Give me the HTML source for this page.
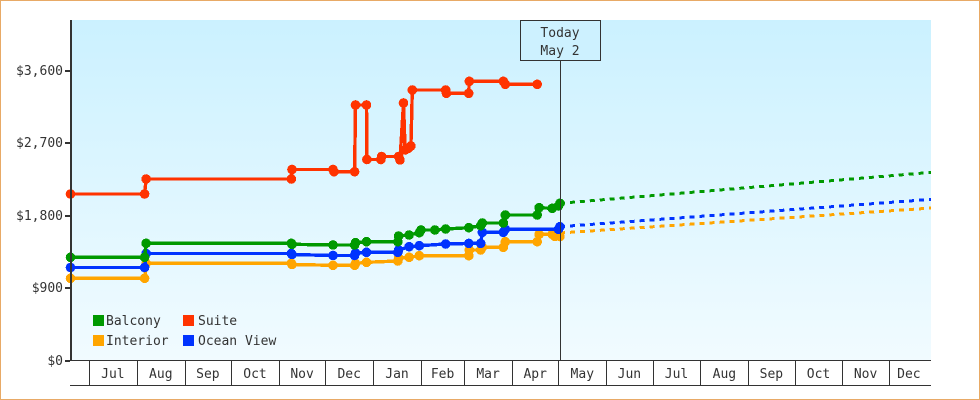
<!DOCTYPE html>
<html lang="en">
<head>
<meta charset="utf-8">
<title>Cabin price history and forecast</title>
<style>
html,body{margin:0;padding:0;background:#fff;}
svg{display:block;}
text{font-family:"DejaVu Sans Mono","Liberation Mono",monospace;font-size:13px;fill:#333;}
</style>
</head>
<body>
<svg id="chart" xmlns="http://www.w3.org/2000/svg" width="980" height="400" viewBox="0 0 980 400">
  <defs>
    <linearGradient id="plot-gradient" x1="0" y1="0" x2="0" y2="1">
      <stop offset="0" stop-color="#cbf1ff"/>
      <stop offset="1" stop-color="#f1fbff"/>
    </linearGradient>
    <clipPath id="plot-clip"><rect x="60" y="20" width="871" height="345"/></clipPath>
  </defs>
  <rect x="0.5" y="0.5" width="979" height="399" fill="#fff" stroke="#e8aa66" stroke-width="1" shape-rendering="crispEdges"/>
  <rect x="72" y="20" width="859" height="340" fill="url(#plot-gradient)"/>
  <g id="series-layer" clip-path="url(#plot-clip)"></g>
  <g id="axis-layer"></g>
  <g>
    <rect id="today-box" x="520.5" y="20.5" width="80" height="40" fill="#cdf1ff" stroke="#333" stroke-width="1" shape-rendering="crispEdges"/>
    <text x="560" y="37" text-anchor="middle">Today</text>
    <text x="560" y="55" text-anchor="middle">May 2</text>
    <line x1="560.5" y1="60" x2="560.5" y2="360" stroke="#333" stroke-width="1" shape-rendering="crispEdges"/>
  </g>
  <g>
    <g>
      <rect x="93" y="315" width="11" height="11" fill="#009900"/>
      <text x="106" y="325">Balcony</text>
    </g>
    <g>
      <rect x="183" y="315" width="11" height="11" fill="#ff3300"/>
      <text x="198" y="325">Suite</text>
    </g>
    <g>
      <rect x="93" y="335" width="11" height="11" fill="#ffa500"/>
      <text x="106" y="345">Interior</text>
    </g>
    <g>
      <rect x="183" y="335" width="11" height="11" fill="#0033ff"/>
      <text x="198" y="345">Ocean View</text>
    </g>
  </g>
</svg>
<script>
// Time is expressed in days since the first July tick.
const monthLabels = ['Jul','Aug','Sep','Oct','Nov','Dec','Jan','Feb','Mar','Apr','May','Jun','Jul','Aug','Sep','Oct','Nov','Dec'];
const monthStartDays = [0,31,62,92,123,153,184,215,243,274,304,335,365,396,427,457,488,518];
const priceTicks = [0,900,1800,2700,3600];
const priceTickLabels = ['$0','$900','$1,800','$2,700','$3,600'];

const interiorDays = [-12,36,37,131,131.5,158,172,172.6,179.7,200,200.5,207.3,213.9,246,246.3,253.7,254.7,268.3,269.6,290.3,291.5,300,301.8,305];
const interiorPrices = [1020,1020,1207,1207,1192,1182,1182,1204,1219,1235,1272,1281,1301,1301,1372,1372,1405,1405,1475,1475,1567,1567,1539,1539];

const oceanViewDays = [-12,36,37,131,131.5,158,172,172.6,179.7,200,200.5,207.3,213.9,231,246,253.7,254.7,268.3,269.6,304,305];
const oceanViewPrices = [1155,1155,1328,1328,1316,1303,1303,1335,1343,1343,1372,1413,1425,1446,1454,1454,1591,1591,1629,1629,1661];

const balconyDays = [-12,36,37,131,131.5,158,172,172.6,179.7,200,200.5,207.3,213.9,215,224,231,246,253.7,254.7,268.3,269.6,290.3,291.5,300,304,305];
const balconyPrices = [1281,1281,1455,1455,1443,1434,1434,1462,1475,1475,1546,1558,1587,1620,1620,1632,1649,1673,1707,1707,1806,1806,1897,1889,1918,1951];

const suiteDays = [-12,36,37,131,131.5,158,158.7,172,172.6,179.7,180,189,189.5,200.5,201.4,203.7,204.7,206.8,208.5,209.4,231,231.5,245.9,246.3,268.3,269.6,290.3];
const suitePrices = [2067,2067,2253,2253,2371,2371,2344,2344,3172,3172,2495,2495,2532,2532,2489,3197,2613,2634,2663,3358,3358,3317,3317,3466,3466,3429,3429];

const forecastDays = [305,546];
const interiorForecast = [1583,1893];
const oceanViewForecast = [1661,2001];
const balconyForecast = [1951,2336];

const NS = 'http://www.w3.org/2000/svg';
const seriesLayer = document.getElementById('series-layer');
const axisLayer = document.getElementById('axis-layer');

function xScale(day) { return 89 + day * 1.544; }
function yScale(price) { return 360.5 - price * 72.5 / 900; }
function pointString(days, prices) {
  return days.map(function (d, i) { return xScale(d).toFixed(1) + ',' + yScale(prices[i]).toFixed(1); }).join(' ');
}

function drawSeries(name, color, days, prices, futurePrices) {
  const group = document.createElementNS(NS, 'g');
  
  

  if (futurePrices) {
    const forecast = document.createElementNS(NS, 'polyline');
    forecast.setAttribute('points', pointString(forecastDays, futurePrices));
    forecast.setAttribute('fill', 'none');
    forecast.setAttribute('stroke', color);
    forecast.setAttribute('stroke-width', '3');
    forecast.setAttribute('stroke-dasharray', '5 5');
    forecast.setAttribute('shape-rendering', 'crispEdges');
    
    
    group.appendChild(forecast);
  }

  const line = document.createElementNS(NS, 'polyline');
  line.setAttribute('points', pointString(days, prices));
  line.setAttribute('fill', 'none');
  line.setAttribute('stroke', color);
  line.setAttribute('stroke-width', '3.4');
  line.setAttribute('stroke-linejoin', 'round');
  line.setAttribute('shape-rendering', 'crispEdges');
  
  
  group.appendChild(line);

  days.forEach(function (d, i) {
    const dot = document.createElementNS(NS, 'circle');
    dot.setAttribute('cx', xScale(d).toFixed(1));
    dot.setAttribute('cy', yScale(prices[i]).toFixed(1));
    dot.setAttribute('r', '4.8');
    dot.setAttribute('fill', color);
    dot.setAttribute('shape-rendering', 'crispEdges');
    
    
    group.appendChild(dot);
  });
  seriesLayer.appendChild(group);
}

drawSeries('interior', '#ffa500', interiorDays, interiorPrices, interiorForecast);
drawSeries('ocean-view', '#0033ff', oceanViewDays, oceanViewPrices, oceanViewForecast);
drawSeries('balcony', '#009900', balconyDays, balconyPrices, balconyForecast);
drawSeries('suite', '#ff3300', suiteDays, suitePrices, null);

function axisRect(x, y, w, h, name) {
  const r = document.createElementNS(NS, 'rect');
  r.setAttribute('x', x);
  r.setAttribute('y', y);
  r.setAttribute('width', w);
  r.setAttribute('height', h);
  r.setAttribute('fill', '#333');
  r.setAttribute('shape-rendering', 'crispEdges');
  
  
  axisLayer.appendChild(r);
}

axisRect(70, 20, 2, 341, 'y-axis-line');
axisRect(70, 360, 861, 1, 'x-axis-line');
axisRect(70, 385, 861, 1, 'x-axis-bottom-line');

priceTicks.forEach(function (p, i) {
  const y = Math.round(yScale(p) - 1);
  axisRect(65, y, 5, 2, 'y-axis-tick');
  const t = document.createElementNS(NS, 'text');
  t.setAttribute('x', '63');
  t.setAttribute('y', y + 5);
  t.setAttribute('text-anchor', 'end');
  
  
  t.textContent = priceTickLabels[i];
  axisLayer.appendChild(t);
});

monthStartDays.forEach(function (d, i) {
  const x = xScale(d);
  axisRect(Math.round(x), 360, 1, 25, 'month-separator');
  const next = i + 1 < monthStartDays.length ? xScale(monthStartDays[i + 1]) : 929;
  const t = document.createElementNS(NS, 'text');
  t.setAttribute('x', ((x + next) / 2).toFixed(1));
  t.setAttribute('y', '378');
  t.setAttribute('text-anchor', 'middle');
  
  
  t.textContent = monthLabels[i];
  axisLayer.appendChild(t);
});
</script>
</body>
</html>
